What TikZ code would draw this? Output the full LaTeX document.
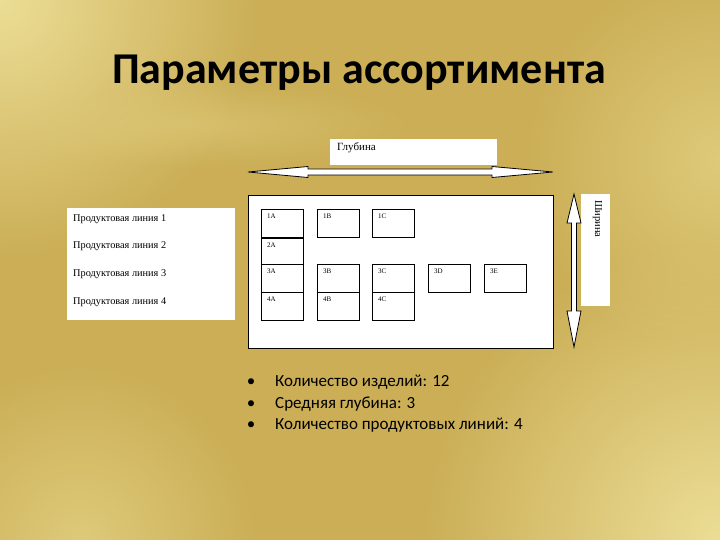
\documentclass[tikz,border=0pt]{standalone}
\usepackage{fontspec}
\setmainfont{Liberation Serif}
\newfontfamily\calib{Carlito}
\usetikzlibrary{fadings}
\definecolor{goldA}{RGB}{203,174,86}
\definecolor{goldL}{RGB}{236,222,150}
\definecolor{goldM}{RGB}{222,202,122}
\tikzfading[name=softspot, inner color=transparent!0, outer color=transparent!100]
\tikzset{
  whitebox/.style={fill=white, draw=none, inner sep=0pt, anchor=north west},
  cell/.style={draw=black, line width=0.7pt, fill=white, inner sep=0pt, minimum width=42pt, minimum height=28pt, anchor=north west},
  celltxt/.style={font=\fontsize{7}{8}\selectfont, inner sep=0pt, anchor=north west},
  linetxt/.style={font=\fontsize{10.3}{11}\selectfont, inner sep=0pt, anchor=west},
  blockarrow/.style={draw=black, line width=0.8pt, fill=white, line join=miter},
  bullettxt/.style={font=\calib\fontsize{17}{20}\selectfont, inner sep=0pt, anchor=base west}
}
\begin{document}
\begin{tikzpicture}[x=1pt,y=-1pt]
\useasboundingbox (0,0) rectangle (720,540);
% background
\fill[goldA] (0,0) rectangle (720,540);
\begin{scope}
\clip (0,0) rectangle (720,540);
\fill[goldL, path fading=softspot] (0,0) circle (260);
\fill[goldL, path fading=softspot] (720,540) circle (300);
\fill[goldM, path fading=softspot] (720,160) circle (200);
\fill[goldM, path fading=softspot] (80,540) circle (180);
\fill[goldM, path fading=softspot, opacity=0.6] (200,125) ellipse (220 and 45);
\end{scope}
% title
\node[font=\calib\bfseries\fontsize{44}{48}\selectfont, inner sep=0pt, anchor=base] (title) at (359,84) {Параметры ассортимента};
% depth box
\node[whitebox, minimum width=167pt, minimum height=26pt] (depth) at (330,139) {};
\node[celltxt, font=\fontsize{11}{12}\selectfont] (depthtxt) at (337,142.5) {Глубина};
% horizontal double arrow
\draw[blockarrow] (248,172) -- (308,166.5) -- (308,169) -- (492,169) -- (492,166.5) -- (553,172) -- (492,177.5) -- (492,175) -- (308,175) -- (308,177.5) -- cycle;
% width box
\node[whitebox, minimum width=29pt, minimum height=112pt] (width) at (581,194) {};
\node[font=\fontsize{10.5}{11}\selectfont, inner sep=0pt, rotate=-90, anchor=west] (widthtxt) at (597.5,200) {Ширина};
% vertical double arrow
\draw[blockarrow] (574,194) -- (581,223) -- (576.5,223) -- (576.5,311) -- (581,311) -- (574,347) -- (567,311) -- (571.5,311) -- (571.5,223) -- (567,223) -- cycle;
% main box
\node[whitebox, draw=black, line width=0.8pt, minimum width=305pt, minimum height=153pt] (main) at (248,195) {};
% product lines box
\node[whitebox, minimum width=168pt, minimum height=112pt] (lines) at (67,208) {};
\node[linetxt] (l1) at (73,219) {Продуктовая линия 1};
\node[linetxt] (l2) at (73,246) {Продуктовая линия 2};
\node[linetxt] (l3) at (73,274) {Продуктовая линия 3};
\node[linetxt] (l4) at (73,302) {Продуктовая линия 4};
% cells
\foreach \nm/\x/\y in {1A/261/209, 1B/317/209, 1C/372/209,
                       2A/261/238, 
                       3A/261/264, 3B/317/264, 3C/372/264, 3D/428/264, 3E/484/264,
                       4A/261/292, 4B/317/292, 4C/372/292}{
  \node[cell] (c\nm) at (\x,\y) {};
  \node[celltxt] (t\nm) at ([xshift=6pt,yshift=-5pt]c\nm.north west) {\nm};
}
% bullets
\foreach \i/\y/\t in {1/386/{Количество изделий: 12}, 2/408/{Средняя глубина: 3}, 3/429/{Количество продуктовых линий: 4}}{
  \node[bullettxt] (b\i) at (275,\y) {\t};
  \node[bullettxt, anchor=base] (bd\i) at (251,\y) {•};
}
\end{tikzpicture}
\end{document}
